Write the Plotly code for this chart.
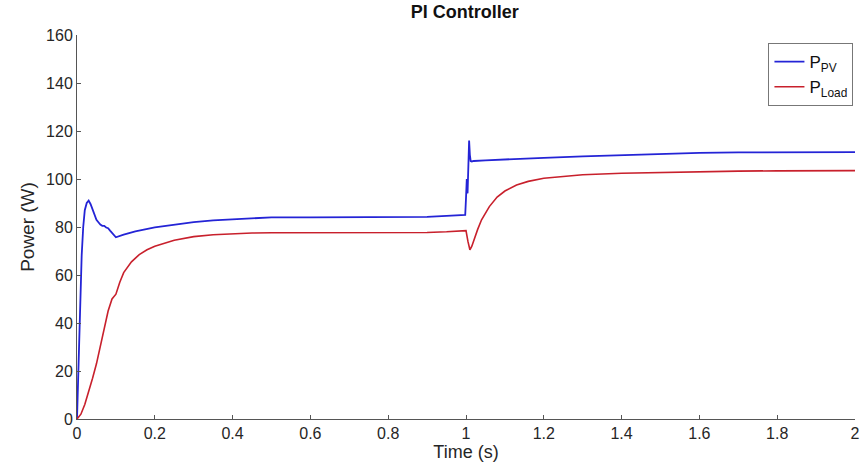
import plotly.graph_objects as go

# Time samples (s) and power (W) for the PV source
t_pv = [0, 0.004, 0.008, 0.012, 0.016, 0.02, 0.025, 0.03, 0.035, 0.04, 0.045, 0.05,
        0.055, 0.06, 0.065, 0.07, 0.075, 0.08, 0.085, 0.09, 0.095, 0.1, 0.12, 0.15,
        0.2, 0.25, 0.3, 0.35, 0.4, 0.45, 0.5, 0.6, 0.7, 0.8, 0.9, 0.95, 0.998, 1.0,
        1.002, 1.004, 1.006, 1.008, 1.01, 1.012, 1.015, 1.02, 1.05, 1.1, 1.2, 1.3,
        1.4, 1.5, 1.6, 1.7, 1.8, 1.9, 2.0]
p_pv = [0, 25, 50, 68, 80, 87, 90, 91, 89.5, 87, 85, 83,
        82, 81, 80.5, 80.5, 79.8, 79.5, 78.5, 77.5, 76.5, 75.7, 76.8, 78.2,
        79.8, 81, 82, 82.8, 83.3, 83.7, 84, 84, 84, 84, 84.2, 84.6, 85, 92,
        100, 94, 104, 116, 110, 107.5, 107.3, 107.5, 107.8, 108.2, 108.8, 109.4,
        110, 110.5, 110.9, 111.1, 111.2, 111.2, 111.2]

# Time samples (s) and power (W) delivered to the load
t_load = [0, 0.01, 0.02, 0.03, 0.04, 0.05, 0.06, 0.07, 0.08, 0.09, 0.1, 0.11, 0.12,
          0.14, 0.16, 0.18, 0.2, 0.25, 0.3, 0.35, 0.4, 0.45, 0.5, 0.6, 0.7, 0.8, 0.9,
          0.95, 1.0, 1.005, 1.01, 1.015, 1.02, 1.03, 1.04, 1.06, 1.08, 1.1, 1.13,
          1.16, 1.2, 1.25, 1.3, 1.4, 1.5, 1.6, 1.7, 1.8, 1.9, 2.0]
p_load = [0, 2, 6, 11, 17, 23, 30, 38, 45, 50, 52, 57, 61,
          65.5, 68.5, 70.5, 72, 74.5, 76, 76.8, 77.2, 77.5, 77.6, 77.6, 77.6, 77.6, 77.7,
          78, 78.5, 74, 70.5, 72, 74.5, 79, 83, 88.5, 92.5, 95, 97.5,
          99, 100.3, 101.2, 101.8, 102.4, 102.8, 103.1, 103.3, 103.4, 103.5, 103.5]

x_ticks = [0, 0.2, 0.4, 0.6, 0.8, 1, 1.2, 1.4, 1.6, 1.8, 2]
y_ticks = [0, 20, 40, 60, 80, 100, 120, 140, 160]

FONT = "Arial, Liberation Sans, sans-serif"

fig = go.Figure()
fig.add_trace(go.Scatter(x=t_pv, y=p_pv, mode="lines", name="P<sub>PV</sub>",
                         line=dict(color="#2424d6", width=1.8)))
fig.add_trace(go.Scatter(x=t_load, y=p_load, mode="lines", name="P<sub>Load</sub>",
                         line=dict(color="#c8202c", width=1.6)))

axis_common = dict(showline=True, linecolor="#555555", linewidth=1, ticks="inside",
                   ticklen=4, tickcolor="#555555", showgrid=False, zeroline=False,
                   tickfont=dict(family=FONT, size=16, color="#262626"), mirror=False)

fig.update_layout(
    width=867, height=464,
    margin=dict(l=77, r=7, t=35, b=45),
    paper_bgcolor="white", plot_bgcolor="white",
    title=dict(text="<b>PI Controller</b>", x=0.536, xanchor="center",
               y=0.975, yanchor="middle",
               font=dict(family=FONT, size=18, color="#111111")),
    xaxis=dict(range=[0, 2], tickvals=x_ticks, ticktext=[f"{v:g}" for v in x_ticks],
               title=dict(text="Time (s)", standoff=0,
                          font=dict(family=FONT, size=18, color="#262626")),
               **axis_common),
    yaxis=dict(range=[0, 160], tickvals=y_ticks,
               title=dict(text="Power (W)", standoff=6,
                          font=dict(family=FONT, size=19, color="#262626")),
               **axis_common),
    legend=dict(x=0.998, y=0.979, xanchor="right", yanchor="top",
                bgcolor="white", bordercolor="#777777", borderwidth=1,
                font=dict(family=FONT, size=17, color="#111111"),
                itemwidth=30, tracegroupgap=0),
    showlegend=True,
)

fig.write_html("out.html")
